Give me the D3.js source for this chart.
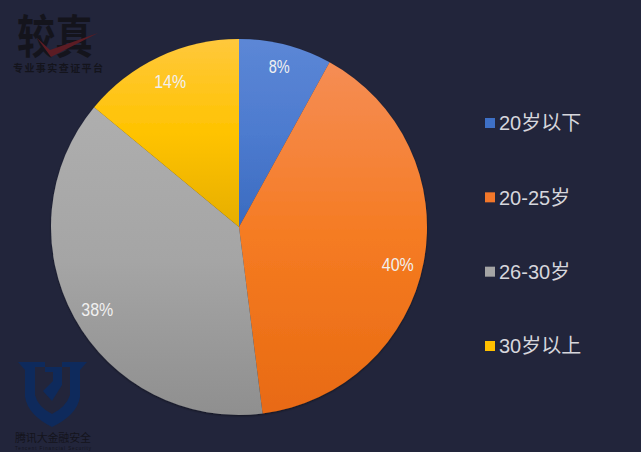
<!DOCTYPE html>
<html>
<head>
<meta charset="utf-8">
<script src="https://cdnjs.cloudflare.com/ajax/libs/d3/7.8.5/d3.min.js"></script>
<style>
  html, body { margin: 0; padding: 0; background: #22253b; }
  svg { display: block; }
  text { font-family: "Liberation Sans", "Noto Sans CJK SC", sans-serif; }
</style>
</head>
<body>
<script>
var categories = ["20岁以下", "20-25岁", "26-30岁", "30岁以上"];
var values = [8, 40, 38, 14];
var labels = ["8%", "40%", "38%", "14%"];
var topColors = ["#5c87d6", "#f58d55", "#aeaeae", "#ffc83c"];
var midColors = ["#4d7bcf", "#f57b22", "#a5a5a5", "#ffc300"];
var bottomColors = ["#3a6bc0", "#e86a12", "#8f8f8f", "#e6ae00"];
var legendColors = ["#3e70c6", "#f2772a", "#a5a5a5", "#ffc000"];

var width = 641, height = 452;
var cx = 239, cy = 227, radius = 188;

var svg = d3.select("body").append("svg")
    .attr("width", width)
    .attr("height", height);

svg.append("rect").attr("width", width).attr("height", height).attr("fill", "#22253b");

var defs = svg.append("defs");
categories.forEach(function (c, i) {
  var g = defs.append("linearGradient")
      .attr("id", "grad" + i)
      .attr("x1", 0).attr("y1", 0).attr("x2", 0).attr("y2", 1);
  g.append("stop").attr("offset", "0%").attr("stop-color", topColors[i]);
  g.append("stop").attr("offset", "50%").attr("stop-color", midColors[i]);
  g.append("stop").attr("offset", "100%").attr("stop-color", bottomColors[i]);
});

var shadow = defs.append("filter").attr("id", "edge");
shadow.append("feDropShadow")
    .attr("dx", 0).attr("dy", 1).attr("stdDeviation", 1.2)
    .attr("flood-color", "#000").attr("flood-opacity", 0.45);

var pie = d3.pie().sort(null)(values);
var arc = d3.arc().innerRadius(0).outerRadius(radius);
var labelArc = d3.arc().innerRadius(radius * 0.86).outerRadius(radius * 0.86);

var chart = svg.append("g").attr("transform", "translate(" + cx + "," + cy + ")");

chart.append("g").attr("filter", "url(#edge)").selectAll("path")
    .data(pie)
    .enter()
  .append("path")
    .attr("d", arc)
    .attr("fill", function (d, i) { return "url(#grad" + i + ")" });

// small nudges, the labels in the picture do not sit exactly on one radius
var nudgeY = [-4, 7, 5, 1];

chart.selectAll("text")
    .data(pie)
    .enter()
  .append("text")
    .attr("transform", function (d, i) {
      var c = labelArc.centroid(d);
      return "translate(" + c[0] + "," + (c[1] + nudgeY[i]) + ")";
    })
    .attr("text-anchor", "middle")
    .attr("dy", "0.36em")
    .attr("font-size", 18)
    .attr("textLength", function (d, i) { return labels[i].length == 2 ? 21 : 32 })
    .attr("lengthAdjust", "spacingAndGlyphs")
    .attr("fill", "#f0f0f0")
    .text(function (d, i) { return labels[i] });

// legend
var legendY = d3.scalePoint().domain(categories).range([123, 346]);

var legend = svg.append("g").selectAll("g")
    .data(categories)
    .enter()
  .append("g")
    .attr("transform", function (d) { return "translate(485," + legendY(d) + ")" });

legend.append("rect")
    .attr("y", -5)
    .attr("width", 10)
    .attr("height", 10)
    .attr("fill", function (d, i) { return legendColors[i] });

legend.append("text")
    .attr("x", 14)
    .attr("dy", "0.36em")
    .attr("font-size", 20)
    .attr("fill", "#d6d6dc")
    .text(function (d) { return d });

// watermark top left
var mark = svg.append("g");
mark.append("text").attr("x", 17).attr("y", 53).attr("font-size", 46)
    .attr("font-family", "Noto Sans CJK SC")
    .attr("font-weight", 700).attr("fill", "#14141c")
    .attr("textLength", 76).attr("lengthAdjust", "spacingAndGlyphs").text("较真");
mark.append("path").attr("d", "M37,38 L50,50 L98,33 L51,57 Z").attr("fill", "#5c1c24");
mark.append("text").attr("x", 13).attr("y", 72).attr("font-size", 10)
    .attr("font-family", "Noto Serif CJK SC, Noto Sans CJK SC")
    .attr("font-weight", 700).attr("fill", "#14141c")
    .attr("textLength", 90).text("专业事实查证平台");

// watermark bottom left
var shield = svg.append("g");
shield.append("path")
    .attr("d", "M18,362 H45 V367 H35 V395 Q38,407 52,414 Q66,407 70,395 V367 H62 V362 H87 L80,370 V397 Q77,415 52,427 Q28,415 25,397 V370 Z")
    .attr("fill", "#0e2a5c");
shield.append("path")
    .attr("d", "M45,367 H62 V385 L52,401 L43,391 L53,381 V372 H45 Z")
    .attr("fill", "#0e2a5c");
shield.append("text").attr("x", 15).attr("y", 442).attr("font-size", 11)
    .attr("font-family", "Noto Sans CJK SC")
    .attr("fill", "#14141c").attr("textLength", 76).text("腾讯大金融安全");
shield.append("text").attr("x", 15).attr("y", 450).attr("font-size", 4.5)
    .attr("fill", "#14141c").attr("textLength", 76).text("Tencent Financial Security");
</script>
</body>
</html>
